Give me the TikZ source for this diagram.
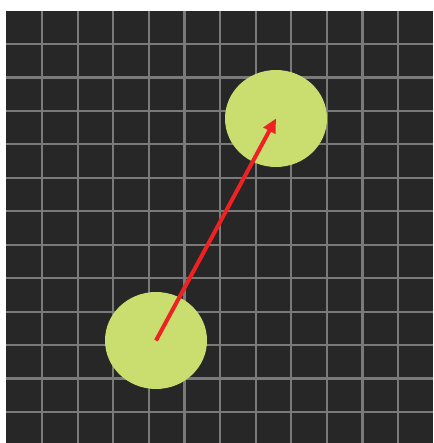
\documentclass[tikz,border=0pt]{standalone}
\usetikzlibrary{arrows.meta, shapes.geometric}
\definecolor{boardbg}{HTML}{272727}
\definecolor{gridgray}{HTML}{7A7A7A}
\definecolor{ballgreen}{HTML}{C9DE6F}
\definecolor{arrowred}{HTML}{EE2222}
\begin{document}
\begin{tikzpicture}[x=1pt, y=-1pt,
    ball/.style={ellipse, fill=ballgreen, minimum width=102pt, minimum height=97pt, inner sep=0pt},
    gridline/.style={gridgray, line width=2.2pt},
    move/.style={arrowred, line width=4pt, -{Triangle[length=14pt, width=13pt]}},
  ]
    \useasboundingbox (0, 0) rectangle (433, 443);
    \fill[boardbg] (6, 11) rectangle (433, 443);

    \foreach \i in {0,...,10}
      \draw[gridline] ({42+35.6*\i}, 11) -- ({42+35.6*\i}, 443);
    \foreach \j in {0,...,11}
      \draw[gridline] (6, {44+33.45*\j}) -- (433, {44+33.45*\j});

    \node[ball] (start) at (156, 340.5) {};
    \node[ball] (goal)  at (276, 118.5) {};

    \draw[move] (start.center) -- (goal.center);
  \end{tikzpicture}
\end{document}
